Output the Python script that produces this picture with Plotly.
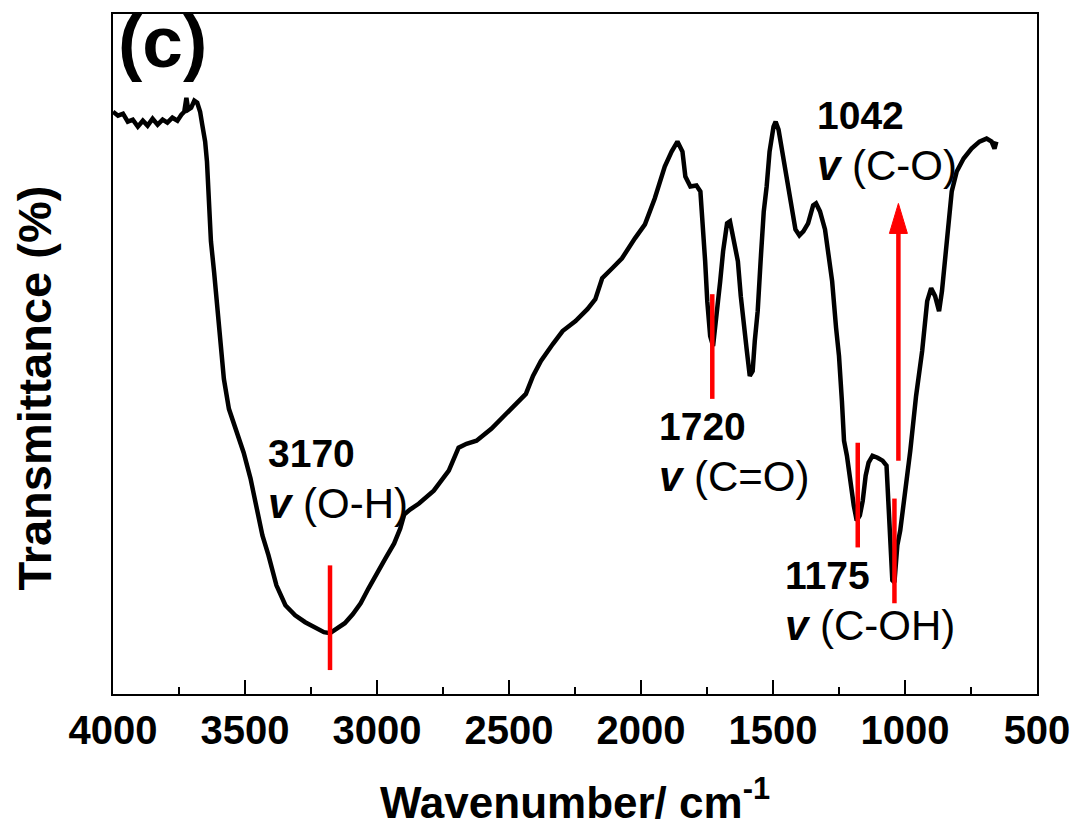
import plotly.graph_objects as go

# ---- spectrum ----
wavenumber = [4000, 3981, 3962, 3944, 3925, 3906, 3887, 3869, 3850, 3831, 3812, 3794, 3775, 3756, 3741, 3730,
              3722, 3715, 3704, 3692, 3681, 3670, 3662, 3651, 3644, 3636, 3629, 3617, 3606, 3595, 3580, 3561,
              3535, 3505, 3479, 3456, 3434, 3411, 3381, 3347, 3310, 3272, 3231, 3201, 3178, 3148, 3122, 3092,
              3062, 3032, 2998, 2968, 2935, 2912, 2897, 2875, 2841, 2785, 2728, 2691, 2661, 2623, 2567, 2499,
              2436, 2409, 2379, 2334, 2297, 2248, 2203, 2173, 2147, 2109, 2072, 2023, 1985, 1948, 1910, 1884,
              1862, 1843, 1832, 1813, 1790, 1775, 1764, 1757, 1749, 1738, 1727, 1715, 1700, 1689, 1674, 1663,
              1648, 1633, 1622, 1610, 1599, 1588, 1577, 1569, 1558, 1547, 1535, 1524, 1513, 1498, 1490, 1479,
              1468, 1457, 1445, 1430, 1415, 1400, 1385, 1367, 1348, 1337, 1322, 1303, 1291, 1276, 1261, 1250,
              1239, 1231, 1220, 1209, 1194, 1183, 1171, 1160, 1149, 1138, 1123, 1104, 1085, 1070, 1063, 1055,
              1048, 1040, 1029, 1018, 1003, 980, 958, 935, 916, 901, 886, 871, 860, 841, 823, 804,
              778, 748, 718, 691, 672, 661, 654]
transmittance = [584, 580, 582, 574, 576, 569, 575, 570, 577, 571, 576, 573, 578, 575, 581, 584,
                 598, 586, 588, 595, 593, 584, 571, 554, 534, 494, 454, 423, 394, 359, 316, 286,
                 264, 242, 216, 184, 159, 139, 109, 89, 79, 72, 66, 62, 61, 66, 71, 80,
                 91, 106, 121, 136, 151, 166, 180, 185, 191, 204, 224, 247, 251, 254, 266, 284,
                 301, 319, 334, 351, 364, 374, 386, 396, 417, 427, 437, 457, 471, 497, 529, 544,
                 554, 544, 519, 509, 510, 504, 469, 434, 394, 359, 349, 374, 414, 444, 472, 474,
                 454, 434, 399, 374, 344, 319, 324, 354, 384, 434, 484, 509, 544, 569, 574, 566,
                 549, 529, 509, 484, 466, 460, 464, 472, 490, 492, 484, 466, 439, 414, 367, 339,
                 294, 254, 239, 214, 189, 174, 179, 194, 219, 232, 239, 237, 234, 229, 194, 154,
                 114, 112, 149, 164, 194, 244, 299, 344, 394, 407, 399, 384, 404, 454, 504, 524,
                 537, 547, 554, 557, 554, 547, 554]

# ---- peak markers (red bars) ----
marker_pos = [3178, 1730, 1179, 1040]
marker_low = [24, 296, 147, 91]
marker_high = [129, 401, 252, 196]

# ---- labels ----
label_num = ["3170", "1720", "1175", "1042"]
label_bond = ["(O-H)", "(C=O)", "(C-OH)", "(C-O)"]
label_x = [3419, 1940, 1462, 1340]
label_y = [265, 292, 142, 604]

arrow_x = 1025
arrow_from = 234
arrow_to = 492

x_ticks = [4000, 3500, 3000, 2500, 2000, 1500, 1000, 500]

FONT = "Liberation Sans, Arial, sans-serif"

fig = go.Figure()
fig.add_trace(go.Scatter(x=wavenumber, y=transmittance, mode="lines",
                         line=dict(color="black", width=4.5), showlegend=False, hoverinfo="skip"))

for xp, lo, hi in zip(marker_pos, marker_low, marker_high):
    fig.add_shape(type="line", x0=xp, x1=xp, y0=lo, y1=hi, xref="x", yref="y",
                  line=dict(color="#ff0000", width=4.5))

# arrow shaft
fig.add_shape(type="line", x0=arrow_x, x1=arrow_x, y0=arrow_from, y1=arrow_to - 25, xref="x", yref="y",
              line=dict(color="#ff0000", width=4.5))
# arrow head
fig.add_shape(type="path", xref="x", yref="y", xsizemode="pixel", ysizemode="pixel",
              xanchor=arrow_x, yanchor=arrow_to, path="M -9,-30 L 9,-30 L 0,0 Z",
              fillcolor="#ff0000", line=dict(color="#ff0000", width=1))

for num, bond, lx, ly in zip(label_num, label_bond, label_x, label_y):
    fig.add_annotation(x=lx, y=ly, xref="x", yref="y", xanchor="left", yanchor="top",
                       text=f"<b>{num}</b><br><span style='font-size:42px'><b><i>v</i></b> {bond}</span>",
                       align="left", showarrow=False, font=dict(family=FONT, size=39, color="black"))

fig.add_annotation(x=0.003, y=1.022, xref="paper", yref="paper", xanchor="left", yanchor="top",
                   text="<b>(c)</b>", showarrow=False,
                   font=dict(family=FONT, size=73, color="black"))

fig.add_annotation(x=-0.085, y=0.45, xref="paper", yref="paper", xanchor="center", yanchor="middle",
                   text="<b>Transmittance (%)</b>", textangle=-90, showarrow=False,
                   font=dict(family=FONT, size=47, color="black"))

fig.update_layout(
    width=1082, height=831,
    margin=dict(l=113, r=36, t=12, b=137),
    paper_bgcolor="white", plot_bgcolor="white",
    font=dict(family=FONT, color="black"),
    xaxis=dict(range=[4000, 500], tickvals=x_ticks, ticktext=[str(v) for v in x_ticks],
               ticks="inside", ticklen=14, tickwidth=2, tickcolor="black",
               minor=dict(ticks="inside", ticklen=7, tickwidth=2, tickcolor="black", dtick=250, showgrid=False),
               showline=True, linecolor="black", linewidth=2, mirror=True,
               showgrid=False, zeroline=False,
               tickfont=dict(family=FONT, size=40, color="black", weight="bold"),
               title=dict(text="<b>Wavenumber/ cm<sup>-1</sup></b>",
                          font=dict(family=FONT, size=44, color="black"), standoff=36)),
    yaxis=dict(range=[0, 682], showticklabels=False, ticks="",
               showline=True, linecolor="black", linewidth=2, mirror=True,
               showgrid=False, zeroline=False),
)

fig.write_html("out.html")
